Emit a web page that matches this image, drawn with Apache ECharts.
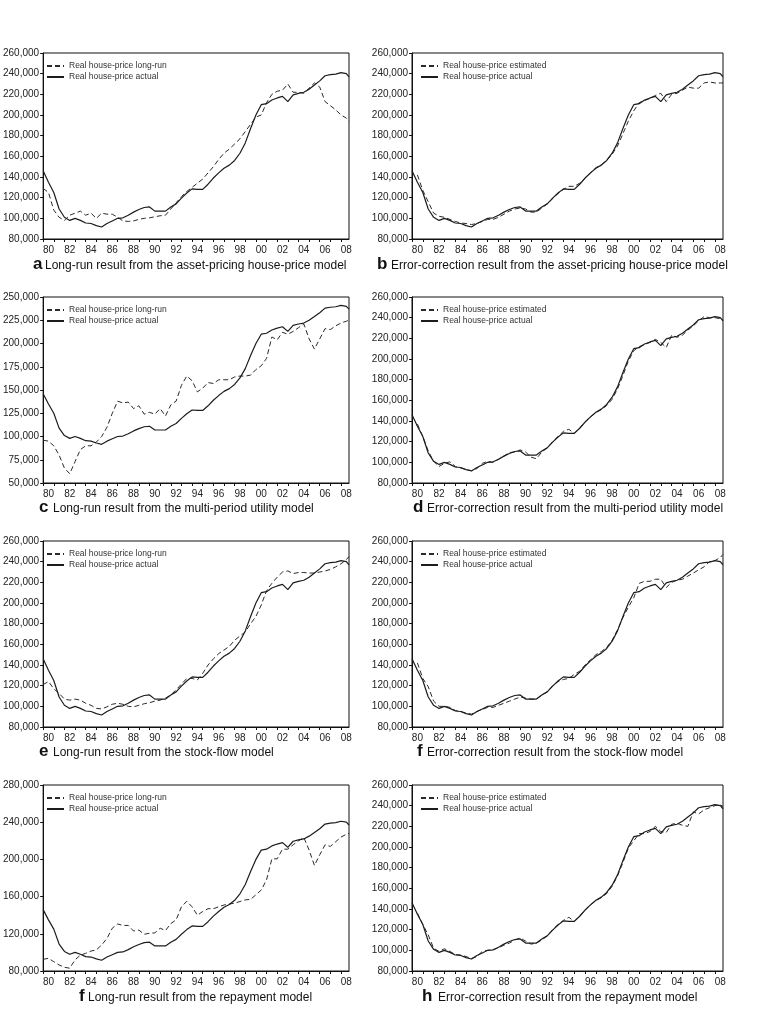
<!DOCTYPE html>
<html>
<head>
<meta charset="utf-8">
<script src="https://cdn.jsdelivr.net/npm/echarts@6/dist/echarts.min.js"></script>
<style>
html,body{margin:0;padding:0;background:#fff;}
#chart{width:762px;height:1021px;}
</style>
</head>
<body>
<div id="chart"></div>
<script>
// Observation dates (semi-annual sampling, last point = 2008 Q4)
const periods = [
  1980,1980.5,1981,1981.5,1982,1982.5,1983,1983.5,1984,1984.5,
  1985,1985.5,1986,1986.5,1987,1987.5,1988,1988.5,1989,1989.5,
  1990,1990.5,1991,1991.5,1992,1992.5,1993,1993.5,1994,1994.5,
  1995,1995.5,1996,1996.5,1997,1997.5,1998,1998.5,1999,1999.5,
  2000,2000.5,2001,2001.5,2002,2002.5,2003,2003.5,2004,2004.5,
  2005,2005.5,2006,2006.5,2007,2007.5,2008,2008.5,2008.75
];
const tickYears = [1980,1981,1982,1983,1984,1985,1986,1987,1988,1989,1990,1991,1992,1993,1994,1995,1996,1997,1998,1999,2000,2001,2002,2003,2004,2005,2006,2007,2008];
const labelYears = [1980,1982,1984,1986,1988,1990,1992,1994,1996,1998,2000,2002,2004,2006,2008];

// Real house-price actual (same in every panel)
const actual = [
  146000,135000,125000,109000,101000,98000,100000,98000,95500,95000,
  93000,91600,95000,97500,100000,100500,103000,106000,108500,110500,
  111000,107000,107000,107000,111000,114000,119500,124500,128500,128000,
  128000,133000,139000,144000,148500,151500,156000,163000,173000,187000,
  200000,210000,211000,214500,216500,218000,213000,219500,221000,222000,
  225000,229000,233000,238000,239000,239500,241000,240000,237000
];
// a: long-run, asset-pricing model
const longRunAsset = [
  129000,125000,108000,101000,98000,103000,105000,107000,103000,105000,
  100000,105000,104000,104000,101000,97500,97000,97500,99000,100000,
  100500,101500,102500,103000,109000,115000,121000,126000,130000,134000,
  138000,144000,150000,157000,163000,167000,172000,177000,184000,191000,
  198000,200000,212000,220000,223000,224000,230000,222000,222000,221000,
  226000,231000,227000,213000,209000,205000,200000,197000,194000
];
// b: error-correction, asset-pricing model
const ecAsset = [
  null,142000,127000,116000,105000,102000,101000,99000,97000,95500,
  95000,94000,95000,97000,99000,99000,101000,104000,107000,109000,
  110000,109000,106000,106000,110000,114000,119000,124000,128000,131000,
  131000,134000,139000,144000,149000,152000,156000,162000,170000,182000,
  194000,204000,212000,214000,216000,219000,221000,213000,220000,221000,
  224000,227000,226000,226000,231000,232000,231000,231000,231000
];
// c: long-run, multi-period utility model
const longRunUtility = [
  96000,95000,90000,80000,66000,60000,73000,86000,90000,90000,
  94000,100000,110000,125000,138000,136000,137000,130000,133000,124000,
  126000,124000,130000,122000,134000,138000,155000,165000,160000,148000,
  152000,158000,157000,161000,161000,161000,164000,165000,165000,166000,
  172000,176000,184000,207000,204000,212000,210000,213000,217000,221000,
  205000,194000,205000,216000,215000,219000,222000,224000,225000
];
// d: error-correction, multi-period utility model
const ecUtility = [
  null,137000,125000,111000,101000,96000,99000,100500,96000,94500,
  93000,92000,94000,99000,101000,100000,103000,106000,109500,110000,
  112000,110000,105000,103500,110000,114000,120000,125000,130000,132000,
  128000,133000,139000,144000,148000,151000,155000,161000,171000,184000,
  198000,208000,212000,214000,216000,219000,216000,211000,223000,221000,
  223000,228000,232000,237000,241000,240000,240000,239000,237000
];
// e: long-run, stock-flow model
const longRunStock = [
  121000,124000,117000,112500,107000,106000,107000,106000,103000,101000,
  98000,97500,99500,102000,103000,102000,100000,99500,101000,102500,
  103500,105000,106000,108000,111000,116000,121500,127000,127000,125500,
  132000,140000,146000,151000,154500,158000,164000,168000,172000,180000,
  187000,198000,212000,219000,225000,230000,231000,228500,229500,229500,
  229000,229000,230000,231000,232500,235000,238000,242000,245000
];
// f: error-correction, stock-flow model
const ecStock = [
  null,142000,127000,119000,105000,100000,100000,99000,96000,95000,
  93500,92500,95000,97000,99000,99000,101000,103000,105000,107000,
  109000,108000,107000,107000,111000,114000,120000,124000,126000,127000,
  131000,134000,140000,145000,150000,153000,157000,164000,174000,186000,
  196000,205000,219000,221000,221000,223000,223000,215000,220000,222000,
  223000,226000,229000,232000,235000,240000,241000,244000,247000
];
// g: long-run, repayment model
const longRunRepay = [
  92600,93600,90000,86500,84000,83000,92000,97000,99000,101500,
  102600,108000,115000,126000,130600,129000,129000,123000,124000,119500,
  120600,121000,126000,123500,131000,135000,149000,155000,149000,140000,
  144000,147000,147000,149000,151000,152000,153000,154700,156500,157000,
  162000,167000,178000,200600,200600,211000,211000,215700,220000,223600,
  210000,193500,205000,215700,214000,219000,224000,227000,228000
];
// h: error-correction, repayment model
const ecRepay = [
  null,136000,125000,115000,102000,99000,101500,99000,96000,95500,
  94000,92000,94000,99000,100000,100500,102500,105000,107000,110000,
  112000,109000,106000,107000,110000,114000,120000,125000,129000,132000,
  128000,133000,139000,144000,148000,151000,155000,162000,172000,185000,
  199000,206000,213000,213000,215000,220000,215000,214000,222000,223000,
  221000,220000,234000,232000,236000,238000,240000,241000,239000
];

const ACT = 'Real house-price actual';
const LR = 'Real house-price long-run';
const EST = 'Real house-price estimated';
const FONT = '"Liberation Sans", Arial, Helvetica, sans-serif';

const L1 = 38, L2 = 412, W = 311, H = 186;
const panels = [
  {dash: longRunAsset,   name: LR,  min: 80000, max: 260000, step: 20000, left: L1, top: 53,  letter:'a', lx: 33,  tx: 45,  cy: 265, title:'Long-run result from the asset-pricing house-price model'},
  {dash: ecAsset,        name: EST, min: 80000, max: 260000, step: 20000, left: L2, top: 53,  letter:'b', lx: 377, tx: 391, cy: 265, title:'Error-correction result from the asset-pricing house-price model'},
  {dash: longRunUtility, name: LR,  min: 50000, max: 250000, step: 25000, left: L1, top: 297, letter:'c', lx: 39,  tx: 53,  cy: 508, title:'Long-run result from the multi-period utility model'},
  {dash: ecUtility,      name: EST, min: 80000, max: 260000, step: 20000, left: L2, top: 297, letter:'d', lx: 413, tx: 427, cy: 508, title:'Error-correction result from the multi-period utility model'},
  {dash: longRunStock,   name: LR,  min: 80000, max: 260000, step: 20000, left: L1, top: 541, letter:'e', lx: 39,  tx: 53,  cy: 752, title:'Long-run result from the stock-flow model'},
  {dash: ecStock,        name: EST, min: 80000, max: 260000, step: 20000, left: L2, top: 541, letter:'f', lx: 417, tx: 427, cy: 752, title:'Error-correction result from the stock-flow model'},
  {dash: longRunRepay,   name: LR,  min: 80000, max: 280000, step: 40000, left: L1, top: 785, letter:'f', lx: 79,  tx: 88,  cy: 997, title:'Long-run result from the repayment model'},
  {dash: ecRepay,        name: EST, min: 80000, max: 260000, step: 20000, left: L2, top: 785, letter:'h', lx: 422, tx: 438, cy: 997, title:'Error-correction result from the repayment model'}
];

const toPairs = arr => periods.map((t, k) => [t, arr[k]]);
const ink = '#1c1c1c';

const option = {
  animation: false,
  backgroundColor: '#ffffff',
  color: ['#222222'],
  textStyle: {fontFamily: FONT},
  grid: panels.map(p => ({left: p.left, top: p.top, width: W, height: H, show: true, borderColor: '#111', borderWidth: 1, backgroundColor: 'transparent'})),
  xAxis: panels.map((p, i) => ({
    gridIndex: i, type: 'value', min: 1980, max: 2008.75,
    axisLine: {show: true, onZero: false, lineStyle: {color: '#111', width: 1}},
    splitLine: {show: false},
    axisTick: {show: true, customValues: tickYears, length: 3, inside: false, lineStyle: {color: '#111'}},
    axisLabel: {
      customValues: labelYears.map(y => y + 0.5),
      formatter: v => String(Math.floor(v)).slice(2),
      fontSize: 10, color: '#222', margin: 6, fontFamily: FONT
    }
  })),
  yAxis: panels.map((p, i) => ({
    gridIndex: i, type: 'value', min: p.min, max: p.max, interval: p.step,
    axisLine: {show: true, lineStyle: {color: '#111', width: 1}},
    splitLine: {show: false},
    axisTick: {show: true, length: 3, lineStyle: {color: '#111'}},
    axisLabel: {
      formatter: v => v.toLocaleString('en-US'),
      fontSize: 10, color: '#222', margin: 4, fontFamily: FONT
    }
  })),
  legend: panels.map(p => ({
    data: [p.name, ACT],
    left: p.left + 8, top: p.top + 8,
    padding: 0,
    orient: 'vertical',
    itemWidth: 17, itemHeight: 6, itemGap: 1,
    selectedMode: false,
    itemStyle: {opacity: 0},
    textStyle: {fontSize: 8.5, color: '#333', lineHeight: 10, fontFamily: FONT},
    backgroundColor: 'transparent'
  })),
  series: panels.flatMap((p, i) => [
    {
      name: p.name, type: 'line', xAxisIndex: i, yAxisIndex: i,
      data: toPairs(p.dash), showSymbol: false, symbol: 'none', connectNulls: false,
      itemStyle: {color: '#2a2a2a'},
      lineStyle: {color: '#2a2a2a', width: 1, type: [5, 3]}, z: 2, silent: true
    },
    {
      name: ACT, type: 'line', xAxisIndex: i, yAxisIndex: i,
      data: toPairs(actual), showSymbol: false, symbol: 'none',
      itemStyle: {color: ink},
      lineStyle: {color: ink, width: 1.2, type: 'solid'}, z: 3, silent: true
    }
  ]),
  graphic: panels.flatMap(p => [
    {type: 'text', left: p.lx, top: p.cy - 9, silent: true,
     style: {text: p.letter, fontSize: 17, fontWeight: 'bold', fontFamily: FONT, fill: '#111'}},
    {type: 'text', left: p.tx, top: p.cy - 5, silent: true,
     style: {text: p.title, fontSize: 12, fontFamily: FONT, fill: '#111'}}
  ])
};

const chart = echarts.init(document.getElementById('chart'), null, {renderer: 'canvas'});
chart.setOption(option);
</script>
</body>
</html>
